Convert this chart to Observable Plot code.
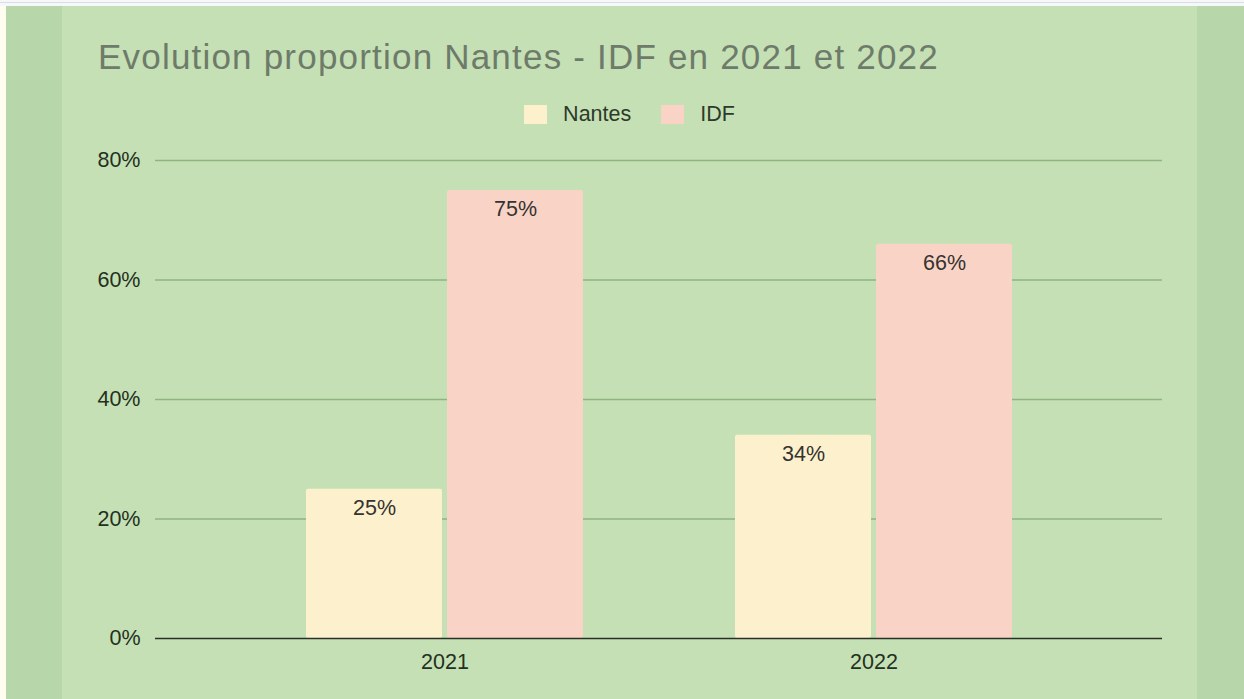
<!DOCTYPE html>
<html>
<head>
<meta charset="utf-8">
<script src="https://cdn.jsdelivr.net/npm/d3@7"></script>
<script src="https://cdn.jsdelivr.net/npm/@observablehq/plot@0.6"></script>
<style>
  html, body { margin: 0; padding: 0; width: 1244px; height: 699px; overflow: hidden; background: #fffdf0; font-family: "Liberation Sans", Arial, sans-serif; }
  #topstrip { position: absolute; left: 0; top: 0; width: 1244px; height: 6px; background: #f6f7f8; }
  #topline { position: absolute; left: 0; top: 2px; width: 1244px; height: 1px; background: #d9dde6; }
  #outer { position: absolute; left: 6px; top: 6px; width: 1238px; height: 693px; background: #b7d6a9; }
  #panel { position: absolute; left: 62px; top: 6px; width: 1135px; height: 693px; background: #c5e0b4; }
  #title { position: absolute; left: 36px; top: 31px; font-size: 35px; line-height: normal; letter-spacing: 1.2px; color: #6e7b6a; white-space: nowrap; }
  #legend { position: absolute; left: 0; top: 96px; width: 1135px; display: flex; justify-content: center; }
  #legend .lg-swatches { font-size: 21.5px; color: #2d3a2b; font-family: "Liberation Sans", Arial, sans-serif; margin: 0; min-height: 0; }
  #legend .lg-swatch { margin-right: 30px !important; }
  #legend .lg-swatch:last-child { margin-right: 0 !important; }
  #legend .lg-swatch > svg { margin-right: 16px !important; }
  .layer { position: absolute; left: 0; top: 128px; }
  .layer svg { display: block; }
</style>
</head>
<body>
<div id="topstrip"></div>
<div id="topline"></div>
<div id="outer"></div>
<div id="panel">
  <div id="title">Evolution proportion Nantes - IDF en 2021 et 2022</div>
  <div id="legend"></div>
  <div id="layerGrid" class="layer"></div>
  <div id="layerBars" class="layer"></div>
  <div id="layerBase" class="layer"></div>
</div>
<script>
const years = ["2021", "2022"];
const series = ["Nantes", "IDF"];
const nantesValues = [25, 34];
const idfValues = [75, 66];
const yTicks = [0, 20, 40, 60, 80];
const gridTicks = [20, 40, 60, 80];
const seriesColors = ["#fdf1cd", "#f9d4c6"];

const data = [];
years.forEach((y, i) => {
  data.push({year: y, series: "Nantes", value: nantesValues[i]});
  data.push({year: y, series: "IDF", value: idfValues[i]});
});

const common = {
  width: 1135,
  height: 565,
  marginTop: 26,
  marginBottom: 61,
  marginLeft: 93,
  marginRight: 35,
  style: {fontSize: "21.5px", fontFamily: "Liberation Sans, Arial, sans-serif", color: "#24301f", background: "transparent", overflow: "visible"},
  y: {domain: [0, 80], axis: null}
};

// Layer 1: gridlines and y axis
const gridPlot = Plot.plot({
  ...common,
  marks: [
    Plot.ruleY(gridTicks, {stroke: "#8fb481", strokeWidth: 1.3}),
    Plot.axisY({ticks: yTicks, tickSize: 0, tickPadding: 15, tickFormat: d => d + "%", label: null})
  ]
});
document.getElementById("layerGrid").appendChild(gridPlot);

// Layer 2: grouped bars, value labels, year axis
const barPlot = Plot.plot({
  ...common,
  fx: {domain: years, paddingInner: 0.355, paddingOuter: 0.35, axis: "bottom", tickSize: 0, tickPadding: 15, label: null},
  x: {domain: series, paddingInner: 0.036, paddingOuter: 0, axis: null},
  color: {domain: series, range: seriesColors},
  marks: [
    Plot.barY(data, {fx: "year", x: "series", y: "value", fill: "series", rx: 2}),
    Plot.text(data, {fx: "year", x: "series", y: "value", text: d => d.value + "%", dy: 19, fill: "#353330", fontSize: 21.5})
  ]
});
document.getElementById("layerBars").appendChild(barPlot);

// Layer 3: zero baseline on top
const basePlot = Plot.plot({
  ...common,
  marks: [
    Plot.ruleY([0], {stroke: "#2a2f28", strokeWidth: 1.7})
  ]
});
document.getElementById("layerBase").appendChild(basePlot);

const legend = Plot.legend({
  color: {domain: series, range: seriesColors},
  className: "lg",
  swatchWidth: 23,
  swatchHeight: 19
});
document.getElementById("legend").appendChild(legend);
</script>
</body>
</html>
